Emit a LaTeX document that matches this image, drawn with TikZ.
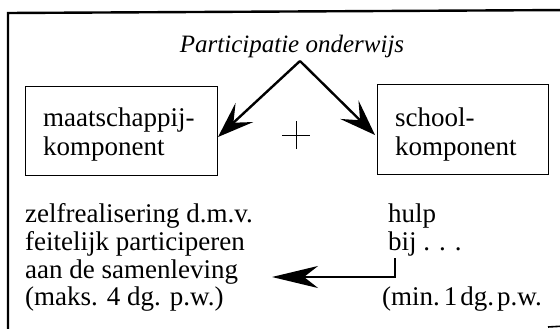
\documentclass[tikz,border=0pt]{standalone}
\usepackage{fontspec}
\setmainfont{Liberation Serif}
\usetikzlibrary{arrows.meta}
\begin{document}
\begin{tikzpicture}[x=1pt,y=-1pt,
  txt/.style={inner sep=0pt,anchor=base west,font=\fontsize{27}{28}\selectfont},
  box/.style={draw,line width=1.4pt},
  frame/.style={line width=2.4pt},
  bigarrow/.style={line width=2.4pt,-{Stealth[length=36pt,width=26pt,inset=15pt]}}]
\useasboundingbox (0,0) rectangle (560,329);
\draw[frame] (8,340) -- (8,13) -- (570,10);
\draw[line width=1.6pt] (548,327) -- (565,326);
\node[txt,anchor=base,font=\itshape\fontsize{25}{28}\selectfont] (title) at (292,53) {Participatie onderwijs};
\node[box,minimum width=192pt,minimum height=89pt,anchor=north west] (lbox) at (25,86) {};
\node[box,minimum width=171pt,minimum height=90pt,anchor=north west] (rbox) at (377,84) {};
\node[txt] (l1) at (43,127) {maatschappij-};
\node[txt] (l2) at (43,155) {komponent};
\node[txt] (r1) at (395,127) {school-};
\node[txt] (r2) at (395,155) {komponent};
\coordinate (apex) at (300,61);
\coordinate (ltip) at (218,137);
\coordinate (rtip) at (375,135);
\draw[bigarrow] (apex) -- (ltip);
\draw[bigarrow] (apex) -- (rtip);
\node[inner sep=0pt] (plus) at (296,135) {};
\draw[line width=0.9pt] ([xshift=-14pt]plus.center) -- ([xshift=14pt]plus.center);
\draw[line width=0.9pt] ([yshift=-14pt]plus.center) -- ([yshift=14pt]plus.center);
\node[txt] (b1) at (25,222) {zelfrealisering d.m.v.};
\node[txt] (b2) at (25,250) {feitelijk participeren};
\node[txt] (b3) at (25,278) {aan de samenleving};
\node[txt] (b4) at (25,305) {(maks. 4 dg. p.w.)};
\node[txt] (h1) at (388,222) {hulp};
\node[txt] (h2) at (388,250) {bij . . .};
\node[txt] (h3) at (382,305) {(min.\hspace{4pt}1\hspace{3pt}dg.\hspace{3pt}p.w.};
\coordinate (top) at (395,258);
\coordinate (corner) at (395,277);
\coordinate (tip) at (272,277);
\draw[line width=2.4pt,-{Stealth[length=46pt,width=22pt,inset=14pt]}] (top) -- (corner) -- (tip);
\end{tikzpicture}
\end{document}
